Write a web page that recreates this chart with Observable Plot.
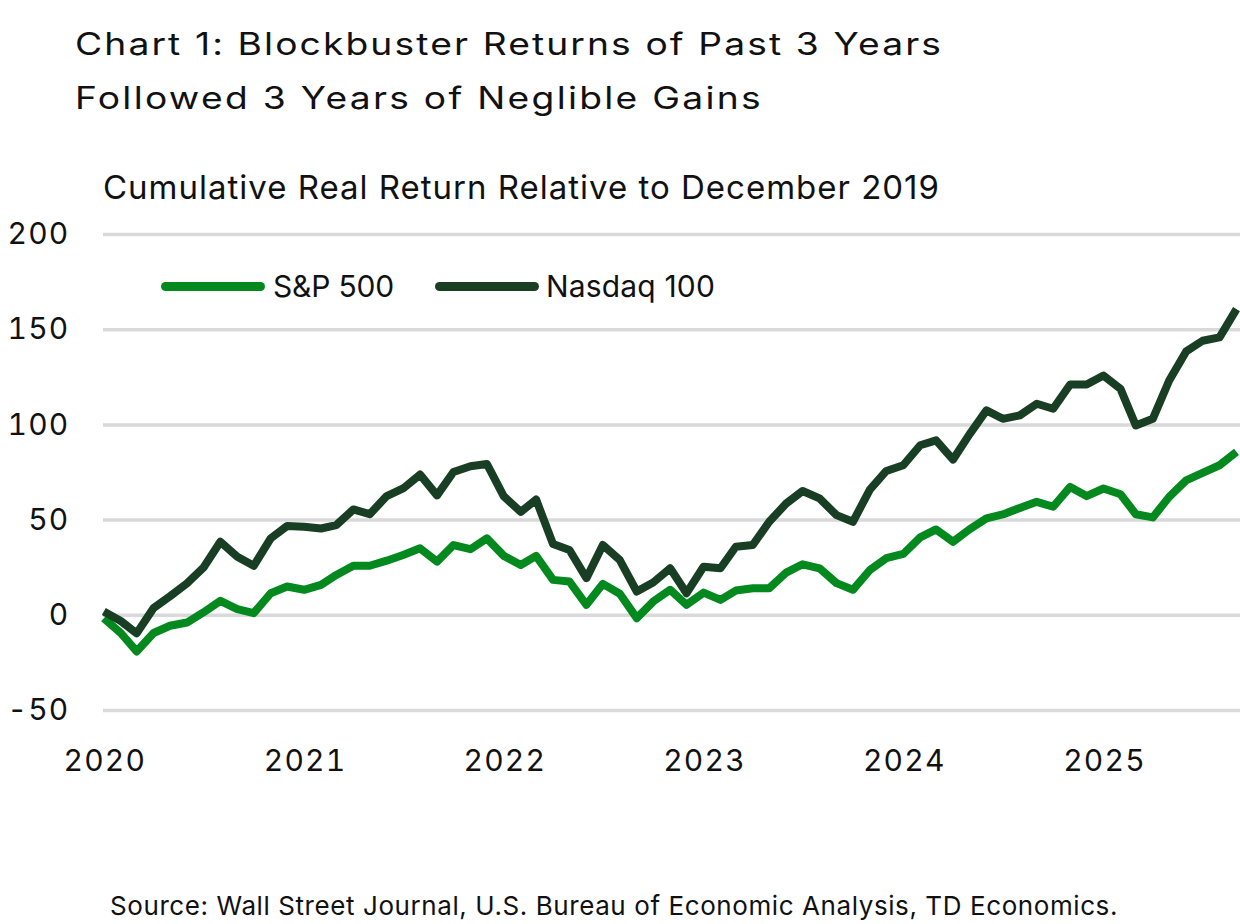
<!DOCTYPE html>
<html>
<head>
<meta charset="utf-8">
<script src="https://cdn.jsdelivr.net/npm/d3@7"></script>
<script src="https://cdn.jsdelivr.net/npm/@observablehq/plot@0.6"></script>
<style>
  html, body { margin: 0; padding: 0; background: #fff; }
  body { width: 1240px; height: 924px; position: relative; overflow: hidden; font-family: Inter, "Noto Sans", sans-serif; color: #111; }
  .fit { position: absolute; white-space: nowrap; display: inline-block; }
  #t1, #t2 { left: 75px; font-size: 31px; line-height: 53px; transform: scaleX(1.2); transform-origin: 0 50%; }
  #t1 { top: 17px; }
  #t2 { top: 70.5px; }
  #subtitle { left: 103px; top: 167px; font-size: 33px; line-height: 40px; }
  #chart { position: absolute; left: 0; top: 200px; }
  .sw { position: absolute; width: 104px; height: 9px; border-radius: 5px; top: 282px; }
  .lt { font-size: 30px; line-height: 36px; top: 268px; }
  #source { left: 110px; top: 890px; font-size: 26px; line-height: 32px; }
</style>
</head>
<body>
<div id="t1" class="fit" data-w="868" data-s="1.2">Chart 1: Blockbuster Returns of Past 3 Years</div>
<div id="t2" class="fit" data-w="688" data-s="1.2">Followed 3 Years of Neglible Gains</div>
<div id="subtitle" class="fit" data-w="837">Cumulative Real Return Relative to December 2019</div>
<div id="chart"></div>
<div id="legend"></div>
<div id="source" class="fit" data-w="1008">Source: Wall Street Journal, U.S. Bureau of Economic Analysis, TD Economics.</div>
<script>
const seriesNames = ["S&P 500", "Nasdaq 100"];
const seriesColors = ["#03891e", "#183e23"];
const startMonth = "2020-01-01";
const yTicks = [-50, 0, 50, 100, 150, 200];
const xTickYears = [2020, 2021, 2022, 2023, 2024, 2025];

const sp500 = [
  -1.5, -9.3, -19, -9.3, -5.5, -3.8, 1.5, 7.6, 3.2, 1.1, 11.6, 15.1,
  13.4, 16, 21.2, 26, 26, 28.7, 31.7, 35.2, 28.2, 36.9, 34.7, 40.4,
  31.2, 26.4, 31.2, 18.6, 17.7, 5.5, 16.5, 11.3, -1.5, 7.2, 13.4, 5.5,
  11.9, 8.1, 13, 14.2, 14.2, 22.4, 26.8, 24.7, 16.9, 13.4, 23.8, 30,
  32.2, 40.9, 45.1, 38.6, 45.1, 50.9, 53, 56.4, 59.6, 57, 67.4, 62.6,
  66.6, 63.6, 53.1, 51.4, 62.2, 70.9, 74.8, 78.8, 85.8
];
const nasdaq100 = [
  2, -3, -9.5, 3.8, 10, 16.8, 25, 38.6, 30.8, 26, 40.4, 46.9,
  46.5, 45.6, 47.4, 55.6, 53.1, 62.6, 66.6, 73.9, 63, 75.3, 78.3, 79.5,
  62.5, 54.3, 60.8, 37.4, 34.3, 19.5, 36.9, 29, 12.5, 17.2, 24.7, 11.6,
  25.5, 24.7, 36, 36.9, 49.1, 58.7, 65.3, 61.4, 52.6, 49.1, 66, 75.8,
  78.8, 89.3, 91.9, 81.8, 95, 107.6, 103.2, 105, 111.1, 108.5, 121.2, 121.2,
  125.9, 118.9, 99.7, 103.2, 123.3, 138.6, 144.2, 146, 160.8
];

const start = new Date(startMonth);
const months = sp500.map((_, i) => d3.utcMonth.offset(start, i));
const data = [];
[sp500, nasdaq100].forEach((vals, s) => {
  vals.forEach((v, i) => data.push({date: months[i], value: v, series: seriesNames[s]}));
});

const chart = Plot.plot({
  width: 1240,
  height: 600,
  marginLeft: 103,
  marginRight: 0,
  marginTop: 34,
  marginBottom: 90,
  style: {fontSize: "30px", letterSpacing: "1.2px", fontFamily: "Inter, 'Noto Sans', sans-serif", color: "#111", background: "transparent", overflow: "visible"},
  x: {type: "utc", domain: [start, months[months.length - 1]], range: [103.3, 1236]},
  y: {domain: [-50, 200]},
  color: {domain: seriesNames, range: seriesColors},
  marks: [
    Plot.ruleY(yTicks, {stroke: "#d9d9d9", strokeWidth: 3.5}),
    Plot.axisY({ticks: yTicks, tickSize: 0, tickPadding: 34, tickFormat: d => `${d}`, label: null, fill: "#111"}),
    Plot.axisX({ticks: xTickYears.map(y => new Date(Date.UTC(y, 0, 1))), tickSize: 0, tickPadding: 39, dx: 1, tickFormat: d3.utcFormat("%Y"), label: null, fill: "#111"}),
    Plot.lineY(data, {x: "date", y: "value", z: "series", stroke: "series", strokeWidth: 8, strokeLinejoin: "round", strokeLinecap: "butt"})
  ]
});
document.getElementById("chart").appendChild(chart);

// legend
const legend = document.getElementById("legend");
const swLeft = [161, 435], txtLeft = [273, 546], txtW = [121, 169];
seriesNames.forEach((n, i) => {
  const sw = document.createElement("span");
  sw.className = "sw";
  sw.style.left = swLeft[i] + "px";
  sw.style.background = seriesColors[i];
  legend.appendChild(sw);
  const t = document.createElement("span");
  t.className = "fit lt";
  t.style.left = txtLeft[i] + "px";
  t.dataset.w = txtW[i];
  t.textContent = n;
  legend.appendChild(t);
});

function fitAll() {
  document.querySelectorAll(".fit").forEach(el => {
    const target = +el.dataset.w;
    if (!target) return;
    const s = +(el.dataset.s || 1);
    el.style.letterSpacing = "0px";
    const w = el.getBoundingClientRect().width;
    const n = el.textContent.length;
    el.style.letterSpacing = ((target - w) / n / s) + "px";
  });
}
fitAll();
if (document.fonts && document.fonts.ready) document.fonts.ready.then(fitAll);
</script>
</body>
</html>
